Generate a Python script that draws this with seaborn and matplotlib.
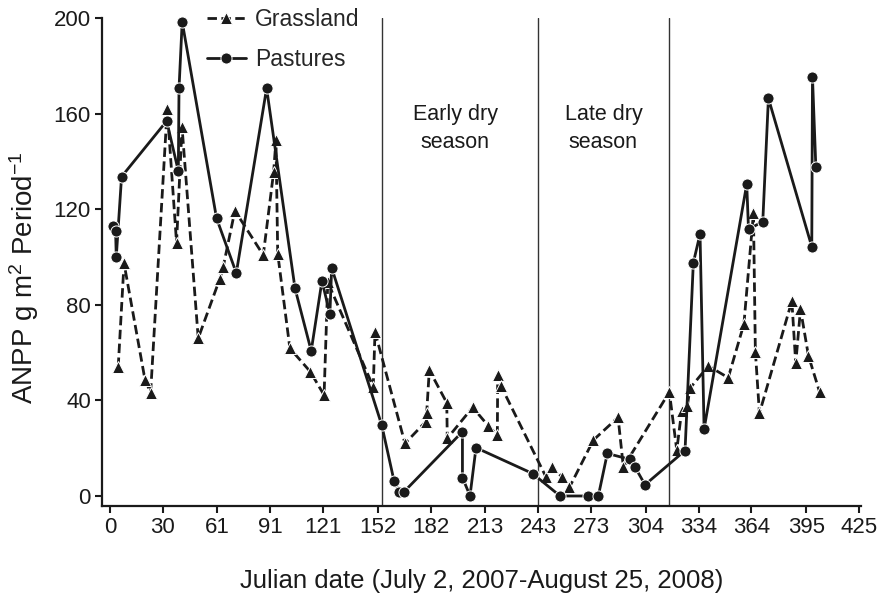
import pandas as pd
import matplotlib
matplotlib.use("Agg")
import matplotlib.pyplot as plt
import seaborn as sns

# Grassland (dashed, triangles)
grass_day = [4.7, 8.0, 19.9, 23.1, 32.5, 37.8, 40.9, 50.1, 62.4, 64.3, 70.9,
             87.0, 92.9, 94.2, 95.2, 102.1, 113.7, 121.5, 123.6, 149.4, 150.4,
             167.4, 179.2, 179.7, 181.2, 191.1, 191.4, 205.8, 214.7, 219.8, 220.0,
             221.9, 247.3, 251.0, 256.3, 260.7, 274.3, 288.3, 291.3, 317.4, 321.6,
             324.4, 327.6, 329.1, 339.5, 350.8, 359.7, 365.1, 366.2, 368.5, 386.9,
             389.1, 391.8, 396.3, 402.6]
grass_val = [54, 97.4, 48.6, 43.3, 161.9, 106, 154.5, 66, 91, 96, 119.4,
             100.8, 135.7, 149, 101.4, 61.8, 52, 42.2, 89.5, 45.7, 68.7,
             22, 31.1, 34.6, 52.7, 39, 24.1, 37.1, 29.3, 25.5, 50.6,
             46, 8.1, 12, 8.1, 3.6, 23.4, 32.9, 12.1, 43.5, 19.2,
             35.7, 37.7, 45.1, 54.4, 49.5, 72, 118.3, 60.4, 34.6, 81.6,
             55.5, 78.2, 58.7, 43.6]

# Pastures (solid, circles)
past_day = [1.9, 3.2, 3.6, 6.6, 32.2, 38.8, 39.2, 41.0, 60.5, 71.7, 88.9,
            105.0, 114.2, 120.3, 124.8, 125.8, 154.2, 161.2, 164.2, 166.9,
            200.0, 200.0, 204.3, 207.7, 239.8, 255.4, 271.4, 277.1, 282.2,
            295.1, 297.9, 303.6, 326.3, 331.0, 334.8, 337.1, 361.3, 362.3,
            370.4, 373.6, 398.2, 398.6, 400.5]
past_val = [113, 110.9, 100, 133.6, 156.9, 136, 170.6, 198.4, 116.2, 93.3, 170.6,
            86.9, 60.7, 90, 76.2, 95.5, 29.7, 6.3, 1.8, 1.8,
            26.9, 7.7, 0.1, 20.2, 9.4, 0, 0, 0, 17.8,
            15.3, 12.1, 4.7, 19, 97.6, 109.6, 28, 130.5, 111.6,
            114.8, 166.4, 104.3, 175.2, 137.8]

x_ticks = [0, 30, 61, 91, 121, 152, 182, 213, 243, 273, 304, 334, 364, 395, 425]
y_ticks = [0, 40, 80, 120, 160, 200]
season_bounds = [154.2, 242.7, 317.4]

sns.set_style("ticks")
plt.rcParams["font.family"] = ["Liberation Sans", "DejaVu Sans"]
plt.rcParams["mathtext.fontset"] = "custom"
plt.rcParams["mathtext.rm"] = "Liberation Sans"
plt.rcParams["mathtext.it"] = "Liberation Sans:italic"

ink = "#1a1a1a"
fig = plt.figure(figsize=(8.77, 5.98), dpi=100)
ax = fig.add_axes([0.1163, 0.1538, 0.8652, 0.8161])

for xv in season_bounds:
    ax.axvline(xv, color="#333333", lw=1.0, zorder=1)

grass = pd.DataFrame({"day": grass_day, "anpp": grass_val})
past = pd.DataFrame({"day": past_day, "anpp": past_val})

sns.lineplot(data=grass, x="day", y="anpp", ax=ax, sort=False, estimator=None,
             color=ink, lw=2.0, linestyle=(0, (3.4, 1.6)), marker="^",
             markersize=9, markeredgecolor="white", markeredgewidth=0.7,
             label="Grassland", clip_on=False, zorder=3)
sns.lineplot(data=past, x="day", y="anpp", ax=ax, sort=False, estimator=None,
             color=ink, lw=2.0, linestyle="-", marker="o",
             markersize=8, markeredgecolor="white", markeredgewidth=0.7,
             label="Pastures", clip_on=False, zorder=4)

ax.set_xlim(-4.5, 426)
ax.set_ylim(-4.2, 200)
ax.set_xticks(x_ticks)
ax.set_yticks(y_ticks)
ax.tick_params(axis="both", labelsize=16, length=5, width=1.5, color=ink,
               labelcolor=ink, pad=3)
for s in ["left", "bottom"]:
    ax.spines[s].set_linewidth(1.6)
    ax.spines[s].set_color(ink)
sns.despine(ax=ax)

ax.set_xlabel("Julian date (July 2, 2007-August 25, 2008)", fontsize=18.5,
              color=ink, labelpad=22)
ax.set_ylabel(r"ANPP g m$^{2}$ Period$^{-1}$", fontsize=20, color=ink)
ax.yaxis.set_label_coords(-0.081, 0.467)

ax.text(196, 153.7, "Early dry\nseason", ha="center", va="center", fontsize=15.5,
        color=ink, linespacing=1.45)
ax.text(280, 153.7, "Late dry\nseason", ha="center", va="center", fontsize=15.5,
        color=ink, linespacing=1.45)

leg = ax.legend(loc="upper left", bbox_to_anchor=(0.126, 1.04), frameon=False,
                fontsize=16.5, handlelength=1.7, handletextpad=0.4,
                labelspacing=0.75, borderaxespad=0)

plt.savefig("out.png", dpi=100)
plt.close()
